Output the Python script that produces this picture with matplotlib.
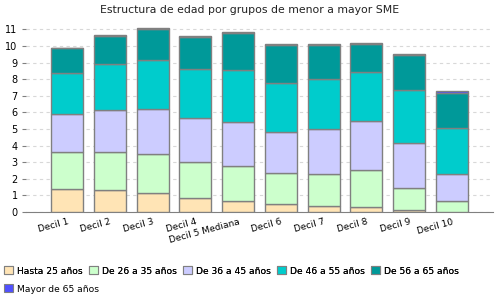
import numpy as np
import matplotlib
matplotlib.use("Agg")
import matplotlib.pyplot as plt
from matplotlib.patches import Patch

deciles = ["Decil 1", "Decil 2", "Decil 3", "Decil 4", "Decil 5 Mediana",
           "Decil 6", "Decil 7", "Decil 8", "Decil 9", "Decil 10"]
series = ["Hasta 25 años", "De 26 a 35 años", "De 36 a 45 años",
          "De 46 a 55 años", "De 56 a 65 años", "Mayor de 65 años"]

hasta25 = [1.38, 1.32, 1.14, 0.84, 0.66, 0.50, 0.36, 0.30, 0.12, 0.0]
de26_35 = [2.23, 2.29, 2.35, 2.16, 2.13, 1.84, 1.92, 2.23, 1.32, 0.66]
de36_45 = [2.28, 2.54, 2.70, 2.65, 2.62, 2.47, 2.71, 2.94, 2.71, 1.62]
de46_55 = [2.47, 2.75, 2.95, 2.95, 3.13, 2.95, 3.01, 2.95, 3.18, 2.77]
de56_65 = [1.51, 1.71, 1.90, 1.96, 2.25, 2.32, 2.08, 1.72, 2.15, 2.10]
mayor65 = [0.03, 0.03, 0.03, 0.03, 0.03, 0.03, 0.03, 0.03, 0.03, 0.12]

colors = ["#FFE4B5", "#CCFFCC", "#CCCCFF", "#00CCCC", "#009999", "#5050FF"]
data = [hasta25, de26_35, de36_45, de46_55, de56_65, mayor65]

plt.rcParams["font.family"] = ["DejaVu Sans"]

fig = plt.figure(figsize=(5, 3), dpi=100)
ax = fig.add_axes([0.052, 0.2933, 0.934, 0.627])

x = np.arange(len(deciles))
bottom = np.zeros(len(deciles))
for vals, col in zip(data, colors):
    ax.bar(x, vals, 0.75, bottom=bottom, color=col, edgecolor="#808080",
           linewidth=1, zorder=3)
    bottom += np.array(vals)

ax.set_xlim(-0.96, 9.96)
ax.set_ylim(0, 11.33)
ax.set_yticks(range(0, 12))
ax.tick_params(axis="y", length=3, color="#808080", labelsize=7, pad=3)
ax.tick_params(axis="x", length=0, labelsize=6.5, pad=4)
ax.set_xticks(x)
ax.set_xticklabels(deciles, rotation=15, ha="right", rotation_mode="anchor")
ax.yaxis.grid(True, linestyle=(0, (3, 3)), color="#d8d8d8", linewidth=0.8, zorder=0)
for s in ["top", "right", "left"]:
    ax.spines[s].set_visible(False)
ax.spines["bottom"].set_color("#808080")

fig.text(0.5, 0.968, "Estructura de edad por grupos de menor a mayor SME",
         ha="center", va="center", fontsize=7.8, color="#222222")

handles = [Patch(facecolor=c, edgecolor="#808080", linewidth=0.8) for c in colors]
leg_kw = dict(frameon=False, fontsize=6.6, handlelength=1.0, handleheight=1.0,
              handletextpad=0.4, columnspacing=0.7, borderaxespad=0, borderpad=0)
leg1 = fig.legend(handles[:5], series[:5], ncol=5, loc="center left",
                  bbox_to_anchor=(0.008, 0.097), **leg_kw)
fig.add_artist(leg1)
fig.legend(handles[5:], series[5:], ncol=1, loc="center left",
           bbox_to_anchor=(0.008, 0.037), **leg_kw)

fig.savefig("out.png", dpi=100)
